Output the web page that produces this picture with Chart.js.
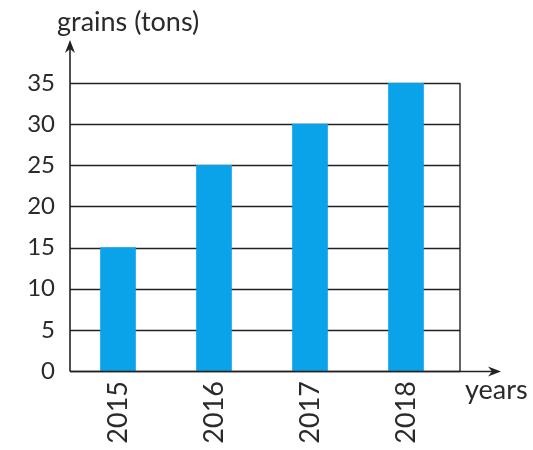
<!DOCTYPE html>
<html><head><meta charset="utf-8">
<script src="https://cdn.jsdelivr.net/npm/chart.js@4"></script>
<style>html,body{margin:0;padding:0;background:#fff}#w{width:533px;height:450px}</style>
</head><body><div id="w"><canvas id="c" width="533" height="450"></canvas></div>
<script>
const categories = ['2015', '2016', '2017', '2018'];
const grains = [15, 25, 30, 35];
const yTicks = [0, 5, 10, 15, 20, 25, 30, 35];
const yTitle = 'grains (tons)';
const xTitle = 'years';

const FONT = 'Lato, "Open Sans", sans-serif';
const RIGHT_EDGE = 460;
const TXT = '#2a2a2a';

const deco = {
  id: 'deco',
  beforeDatasetsDraw(chart) {
    const ctx = chart.ctx, y = chart.scales.y, a = chart.chartArea;
    ctx.save();
    ctx.strokeStyle = '#222';
    ctx.lineWidth = 1.4;
    yTicks.forEach(v => {
      const py = Math.round(y.getPixelForValue(v)) + 0.5;
      ctx.beginPath(); ctx.moveTo(a.left, py); ctx.lineTo(RIGHT_EDGE, py); ctx.stroke();
    });
    ctx.beginPath();
    ctx.moveTo(RIGHT_EDGE, y.getPixelForValue(35)); ctx.lineTo(RIGHT_EDGE, y.getPixelForValue(0));
    ctx.stroke();
    ctx.restore();
  },
  afterDraw(chart) {
    const ctx = chart.ctx, y = chart.scales.y, a = chart.chartArea;
    const x0 = a.left, y0 = Math.round(y.getPixelForValue(0)) + 0.5;
    ctx.save();
    ctx.strokeStyle = '#222'; ctx.fillStyle = '#222'; ctx.lineWidth = 1.6;
    // y axis
    ctx.beginPath(); ctx.moveTo(x0, y0); ctx.lineTo(x0, 48); ctx.stroke();
    ctx.beginPath(); ctx.moveTo(x0, 40); ctx.lineTo(x0 - 5, 53); ctx.lineTo(x0, 49); ctx.lineTo(x0 + 5, 53); ctx.closePath(); ctx.fill();
    // x axis
    ctx.beginPath(); ctx.moveTo(x0, y0); ctx.lineTo(492, y0); ctx.stroke();
    ctx.beginPath(); ctx.moveTo(501, y0); ctx.lineTo(488, y0 - 5); ctx.lineTo(492, y0); ctx.lineTo(488, y0 + 5); ctx.closePath(); ctx.fill();
    // titles
    ctx.fillStyle = TXT;
    ctx.font = '27px ' + FONT;
    ctx.textBaseline = 'alphabetic';
    ctx.textAlign = 'left';
    ctx.fillText(yTitle, 57, 31);
    ctx.fillText(xTitle, 465, 399);
    ctx.restore();
  }
};

new Chart(document.getElementById('c'), {
  type: 'bar',
  data: {
    labels: categories,
    datasets: [{ data: grains, backgroundColor: '#0aa2e8', borderWidth: 0, barThickness: 35 }]
  },
  options: {
    responsive: false,
    animation: false,
    events: [],
    layout: { padding: { top: 83, right: 79, bottom: 0, left: 0 } },
    plugins: { legend: { display: false }, tooltip: { enabled: false } },
    scales: {
      x: {
        grid: { display: false },
        border: { display: false },
        ticks: { color: TXT, font: { family: FONT, size: 27 }, minRotation: 90, maxRotation: 90, padding: 2 },
        afterFit(s) { s.height = 79; }
      },
      y: {
        min: 0, max: 35,
        grid: { display: false },
        border: { display: false },
        ticks: { stepSize: 5, color: TXT, font: { family: FONT, size: 24 }, padding: 7 },
        afterFit(s) { s.width = 70; }
      }
    }
  },
  plugins: [deco]
});
</script></body></html>
